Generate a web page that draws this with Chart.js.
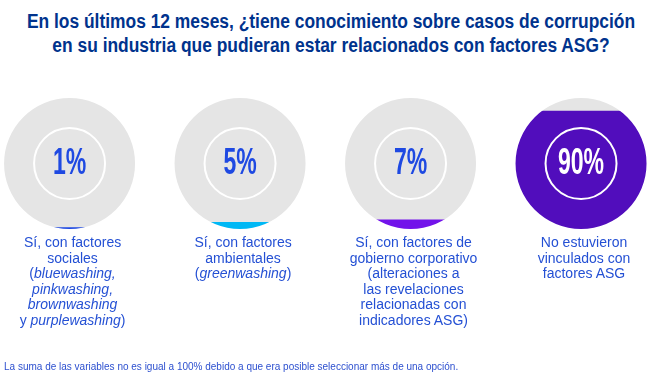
<!DOCTYPE html>
<html>
<head>
<meta charset="utf-8">
<script src="https://cdn.jsdelivr.net/npm/chart.js@4.4.1/dist/chart.umd.min.js"></script>
<style>
  body{margin:0;background:#fff;}
  #wrap{position:relative;width:661px;height:384px;overflow:hidden;font-family:"Liberation Sans",Arial,sans-serif;}
  .tline{position:absolute;left:50%;color:#00338D;font-weight:bold;font-size:20px;line-height:24px;white-space:nowrap;
    transform:translateX(-50%) scaleX(0.87);}
  .lbl{position:absolute;top:235px;width:170px;text-align:center;color:#2450d4;font-size:14px;line-height:15.6px;}
  #note{position:absolute;left:4px;top:361px;color:#2d50cf;font-size:10px;}
  canvas{position:absolute;left:0;top:0;}
</style>
</head>
<body>
<div id="wrap">
  <div class="tline" style="top:9px">En los últimos 12 meses, ¿tiene conocimiento sobre casos de corrupción</div>
  <div class="tline" style="top:33px">en su industria que pudieran estar relacionados con factores ASG?</div>
  <canvas id="circles" width="661" height="384"></canvas>
  <div id="labels"></div>
  <div id="note">La suma de las variables no es igual a 100% debido a que era posible seleccionar más de una opción.</div>
</div>
<script>
const categories=[
    'Sí, con factores<br>sociales<br>(<i>bluewashing,</i><br><i>pinkwashing,</i><br><i>brownwashing</i><br>y <i>purplewashing</i>)',
    'Sí, con factores<br>ambientales<br>(<i>greenwashing</i>)',
    'Sí, con factores de<br>gobierno corporativo<br>(alteraciones a<br>las revelaciones<br>relacionadas con<br>indicadores ASG)',
    'No estuvieron<br>vinculados con<br>factores ASG'
];
const values=[1,5,7,90]; //percent
const valueLabels=['1%','5%','7%','90%'];
const fillColors=['#1E49E2','#00B8F5','#7213EA','#510DBC'];
const rest=values.map(v => 100-v);

const ctx=document.getElementById('circles').getContext('2d');

// clip the bars to one circle per category, then draw ring + number
const circlePlugin={
    id:'circlePlugin',
    beforeDatasetsDraw(chart){
        const {ctx,scales:{x,y}}=chart;
        const r=(y.getPixelForValue(0)-y.getPixelForValue(100))/2;
        const cy=y.getPixelForValue(50);
        ctx.save();
        ctx.beginPath();
        values.forEach((v,i)=>{
            const cx=x.getPixelForValue(i);
            ctx.moveTo(cx+r,cy);
            ctx.arc(cx,cy,r,0,Math.PI*2);
        });
        ctx.clip();
    },
    afterDatasetsDraw(chart){
        const {ctx,scales:{x,y}}=chart;
        ctx.restore();
        const cy=y.getPixelForValue(50);
        values.forEach((v,i)=>{
            const cx=x.getPixelForValue(i);
            ctx.save();
            ctx.beginPath();
            ctx.arc(cx,cy,35.5,0,Math.PI*2);
            ctx.strokeStyle='#ffffff';
            ctx.lineWidth=2;
            ctx.stroke();
            ctx.translate(cx,cy+1);
            ctx.scale(0.64,1);
            ctx.font='bold 36px "Liberation Sans",Arial,sans-serif';
            ctx.textAlign='center';
            ctx.textBaseline='middle';
            ctx.fillStyle= v>50 ? '#ffffff' : '#1E49E2';
            ctx.fillText(valueLabels[i],0,0);
            ctx.restore();
        });
    }
};

const chart=new Chart(ctx,{
    type:'bar',
    data:{
        datasets:[{
            label:'sí',
            data:values.map((v,i)=>({x:i,y:v})),
            backgroundColor:fillColors,
            borderWidth:0,
            barThickness:150
        },{
            label:'resto',
            data:rest.map((v,i)=>({x:i,y:v})),
            backgroundColor:'#e5e5e5',
            borderWidth:0,
            barThickness:150
        }]
    },
    options:{
        responsive:false,
        animation:false,
        layout:{padding:{top:98,bottom:155,left:0,right:0}},
        scales:{
            x:{type:'linear',display:false,stacked:true,offset:false,min:-0.408,max:3.469},
            y:{display:false,stacked:true,min:0,max:100}
        },
        plugins:{
            legend:{display:false},
            tooltip:{enabled:false}
        }
    },
    plugins:[circlePlugin]
});

const box=document.getElementById('labels');
categories.forEach((c,i)=>{
    const d=document.createElement('div');
    d.className='lbl';
    d.style.left=(chart.scales.x.getPixelForValue(i)+3-85)+'px';
    d.innerHTML=c;
    box.appendChild(d);
});
</script>
</body>
</html>
